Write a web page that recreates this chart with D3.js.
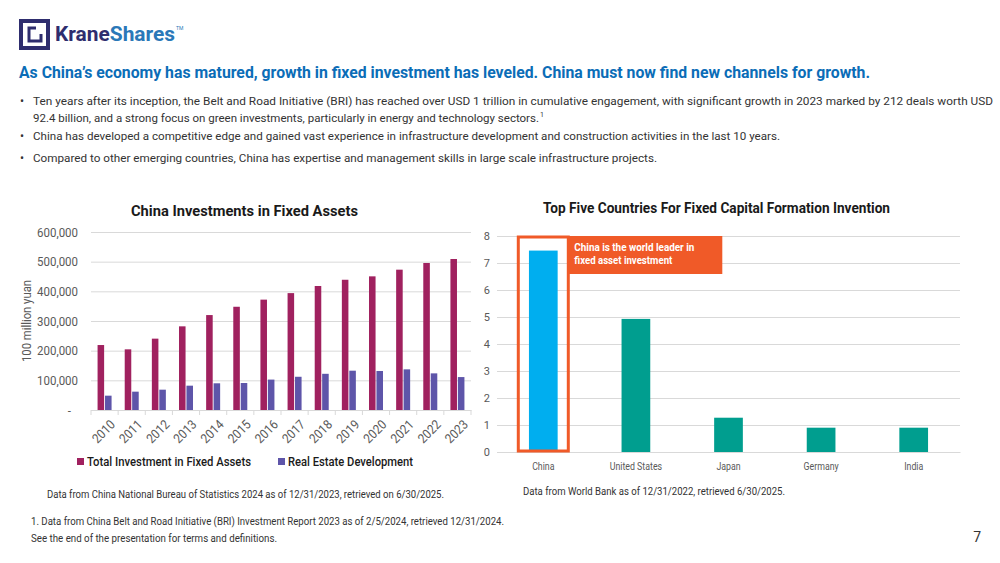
<!DOCTYPE html>
<html>
<head>
<meta charset="utf-8">
<script src="https://cdn.jsdelivr.net/npm/d3@7"></script>
<style>
  body { margin: 0; background: #fff; }
  svg { display: block; }
  text { font-family: Roboto, "DejaVu Sans", sans-serif; }
</style>
</head>
<body>
<svg id="canvas"></svg>
<script>
const YEARS = ["2010","2011","2012","2013","2014","2015","2016","2017","2018","2019","2020","2021","2022","2023"];
const TOTAL_INVESTMENT = [219000, 204500, 240500, 282000, 320000, 348000, 372000, 394000, 418000, 439000, 450500, 473000, 495500, 509000];
const REAL_ESTATE = [48300, 61800, 68500, 82000, 90000, 91000, 102500, 112000, 122000, 132500, 131500, 137000, 123500, 111000];
const LEFT_TICKS = [0, 100000, 200000, 300000, 400000, 500000, 600000];

const COUNTRIES = ["China", "United States", "Japan", "Germany", "India"];
const FORMATION = [7.46, 4.93, 1.27, 0.9, 0.9];
const RIGHT_TICKS = [0, 1, 2, 3, 4, 5, 6, 7, 8];

const BULLETS = [
    ["Ten years after its inception, the Belt and Road Initiative (BRI) has reached over USD 1 trillion in cumulative engagement, with significant growth in 2023 marked by 212 deals worth USD",
     "92.4 billion, and a strong focus on green investments, particularly in energy and technology sectors."],
    ["China has developed a competitive edge and gained vast experience in infrastructure development and construction activities in the last 10 years."],
    ["Compared to other emerging countries, China has expertise and management skills in large scale infrastructure projects."]
];
//target widths of the bullet lines in the slide (the slide font is condensed)
const BULLET_WIDTHS = [[960, 506], [747], [624]];

const width = 1000;
const height = 563;
const NAVY = "#2e2d6e";
const GRID = "#d9d9d9";
const LABEL = "#595959";

const svg = d3.select("#canvas")
    .attr("width", width)
    .attr("height", height);

//Squeezes a text to a given width, imitating the narrow slide font
function fit(sel, w) {
    return sel.attr("textLength", w).attr("lengthAdjust", "spacingAndGlyphs");
}
function condense(sel, ratio) {
    sel.each(function () {
        const w = this.getComputedTextLength();
        d3.select(this).attr("textLength", w * ratio).attr("lengthAdjust", "spacingAndGlyphs");
    });
}
//Shrinks the font until the natural width fits, then pins the width
function fitSize(sel, w, base) {
    sel.style("font-size", base + "px");
    const natural = sel.node().getComputedTextLength();
    if (natural > w) sel.style("font-size", (base * w / natural).toFixed(2) + "px");
    return fit(sel, w);
}

//Logo
const logo = svg.append("g");
logo.append("rect")
    .attr("x", 21).attr("y", 21).attr("width", 27).attr("height", 27)
    .attr("fill", "none").attr("stroke", NAVY).attr("stroke-width", 4);
logo.append("path")
    .attr("d", "M36,28 H29 V41 H41 V34")
    .attr("fill", "none").attr("stroke", NAVY).attr("stroke-width", 3);
const logoText = logo.append("text")
    .attr("x", 55).attr("y", 41)
    .style("font-weight", "bold")
    .style("font-size", "21px");
logoText.append("tspan").attr("fill", NAVY).text("Krane");
logoText.append("tspan").attr("fill", "#2a78b8").text("Shares");
fit(logoText, 120);
logo.append("text")
    .attr("x", 176).attr("y", 30)
    .attr("fill", "#2a78b8")
    .style("font-size", "5px")
    .text("TM");

//Headline
fit(svg.append("text")
    .attr("x", 19).attr("y", 78)
    .attr("fill", "#0b6db7")
    .style("font-weight", "bold")
    .style("font-size", "17px")
    .text("As China\u2019s economy has matured, growth in fixed investment has leveled. China must now find new channels for growth."), 851);

//Bullets
const bulletY = [105, 140, 162];
BULLETS.forEach((lines, i) => {
    svg.append("text")
        .attr("x", 20).attr("y", bulletY[i])
        .attr("fill", "#333")
        .style("font-size", "12px")
        .text("\u2022");
    lines.forEach((line, j) => {
        const t = svg.append("text")
            .attr("x", 33).attr("y", bulletY[i] + j * 17)
            .attr("fill", "#333")
            .text(line);
        fitSize(t, BULLET_WIDTHS[i][j], 13);
    });
});
svg.append("text")
    .attr("x", 33 + BULLET_WIDTHS[0][1] + 1).attr("y", bulletY[0] + 12)
    .attr("fill", "#333")
    .style("font-size", "7px")
    .text("1");

//Left chart: China Investments in Fixed Assets
const xLeft = d3.scaleBand()
    .domain(YEARS)
    .range([91, 471]);
const yLeft = d3.scaleLinear()
    .domain([0, 600000])
    .range([410, 232]);
const series = d3.scaleBand()
    .domain(["total", "real"])
    .range([0, 14])
    .paddingInner(0.12);

fit(svg.append("text")
    .attr("x", 131).attr("y", 216)
    .attr("fill", "#1a1a1a")
    .style("font-weight", "bold")
    .style("font-size", "14.5px")
    .text("China Investments in Fixed Assets"), 227);

svg.append("g")
    .attr("transform", "translate(91, 0)")
    .call(d3.axisLeft(yLeft).tickValues(LEFT_TICKS).tickSize(-380).tickPadding(13)
        .tickFormat(d => d === 0 ? "-" : d3.format(",")(d)))
    .call(g => g.select(".domain").remove())
    .call(g => g.selectAll(".tick line").attr("stroke", GRID))
    .call(g => g.selectAll(".tick text").attr("fill", LABEL).style("font-size", "13.5px")
        .attr("dx", d => d === 0 ? -7 : 0))
    .call(g => condense(g.selectAll(".tick text"), 0.85));

const xAxisLeft = svg.append("g")
    .attr("transform", "translate(0, 410)")
    .call(d3.axisBottom(xLeft).tickSize(0).tickFormat(""))
    .call(g => g.select(".domain").attr("stroke", GRID));
xAxisLeft.selectAll(".sep")
    .data(d3.range(YEARS.length + 1))
    .enter()
    .append("line")
    .attr("class", "sep")
    .attr("x1", d => 91 + d * xLeft.bandwidth())
    .attr("x2", d => 91 + d * xLeft.bandwidth())
    .attr("y1", 0).attr("y2", 5)
    .attr("stroke", GRID);
xAxisLeft.selectAll(".year")
    .data(YEARS)
    .enter()
    .append("text")
    .attr("class", "year")
    .attr("transform", d => `translate(${xLeft(d) + xLeft.bandwidth() / 2 + 5}, 9) rotate(-45)`)
    .attr("text-anchor", "end")
    .attr("dy", "0.7em")
    .attr("fill", LABEL)
    .style("font-size", "13px")
    .text(d => d);
condense(xAxisLeft.selectAll(".year"), 0.9);

const barOffset = (xLeft.bandwidth() - 14) / 2;
svg.selectAll(".total")
    .data(TOTAL_INVESTMENT)
    .enter()
    .append("rect")
    .attr("class", "total")
    .attr("x", (d, i) => xLeft(YEARS[i]) + barOffset + series("total"))
    .attr("y", d => yLeft(d))
    .attr("width", series.bandwidth())
    .attr("height", d => yLeft(0) - yLeft(d))
    .attr("fill", "#a0215f");
svg.selectAll(".real")
    .data(REAL_ESTATE)
    .enter()
    .append("rect")
    .attr("class", "real")
    .attr("x", (d, i) => xLeft(YEARS[i]) + barOffset + series("real"))
    .attr("y", d => yLeft(d))
    .attr("width", series.bandwidth())
    .attr("height", d => yLeft(0) - yLeft(d))
    .attr("fill", "#5e55a9");

//Left legend
const legend = [
    ["Total Investment in Fixed Assets", "#a0215f", 77, 164],
    ["Real Estate Development", "#5e55a9", 278, 125]
];
legend.forEach(([label, color, x, w]) => {
    svg.append("rect")
        .attr("x", x).attr("y", 458).attr("width", 7).attr("height", 7)
        .attr("fill", color);
    fit(svg.append("text")
        .attr("x", x + 10).attr("y", 466)
        .attr("fill", "#1a1a1a")
        .style("font-size", "13px")
        .style("font-weight", 500)
        .text(label), w);
});

fit(svg.append("text")
    .attr("transform", "translate(31, 321) rotate(-90)")
    .attr("text-anchor", "middle")
    .attr("fill", LABEL)
    .style("font-size", "13px")
    .text("100 million yuan"), 82);

fit(svg.append("text")
    .attr("x", 47).attr("y", 498)
    .attr("fill", "#333")
    .style("font-size", "10px")
    .text("Data from China National Bureau of Statistics 2024 as of 12/31/2023, retrieved on 6/30/2025."), 397);

//Right chart: Top Five Countries
const xRight = d3.scaleBand()
    .domain(COUNTRIES)
    .range([497, 960])
    .paddingInner(0.69)
    .paddingOuter(0.345);
const yRight = d3.scaleLinear()
    .domain([0, 8])
    .range([452, 236]);

fit(svg.append("text")
    .attr("x", 543).attr("y", 213)
    .attr("fill", "#1a1a1a")
    .style("font-weight", "bold")
    .style("font-size", "14.5px")
    .text("Top Five Countries For Fixed Capital Formation Invention"), 347);

svg.append("g")
    .attr("transform", "translate(497, 0)")
    .call(d3.axisLeft(yRight).tickValues(RIGHT_TICKS).tickSize(-463).tickPadding(7))
    .call(g => g.select(".domain").remove())
    .call(g => g.selectAll(".tick line").attr("stroke", GRID))
    .call(g => g.selectAll(".tick text").attr("fill", LABEL).style("font-size", "11px"));

svg.append("g")
    .attr("transform", "translate(0, 452)")
    .call(d3.axisBottom(xRight).tickSize(0).tickPadding(10))
    .call(g => g.select(".domain").attr("stroke", GRID))
    .call(g => g.selectAll(".tick text").attr("fill", LABEL).style("font-size", "11px"))
    .call(g => condense(g.selectAll(".tick text"), 0.8));

svg.selectAll(".country")
    .data(FORMATION)
    .enter()
    .append("rect")
    .attr("class", "country")
    .attr("x", (d, i) => xRight(COUNTRIES[i]))
    .attr("y", d => yRight(d))
    .attr("width", xRight.bandwidth())
    .attr("height", d => yRight(0) - yRight(d))
    .attr("fill", (d, i) => i === 0 ? "#00aeef" : "#009e8f");

//Highlight around China
const chinaMid = xRight("China") + xRight.bandwidth() / 2;
svg.append("rect")
    .attr("x", chinaMid - 25).attr("y", yRight(8) + 1)
    .attr("width", 50).attr("height", yRight(0) - yRight(8) - 2)
    .attr("fill", "none")
    .attr("stroke", "#f05a28")
    .attr("stroke-width", 3);
svg.append("rect")
    .attr("x", chinaMid + 24).attr("y", yRight(8))
    .attr("width", 155).attr("height", 38)
    .attr("fill", "#f05a28");
[["China is the world leader in", 120], ["fixed asset investment", 98]].forEach(([line, w], i) => {
    fit(svg.append("text")
        .attr("x", chinaMid + 31).attr("y", 251 + i * 13)
        .attr("fill", "#fff")
        .style("font-weight", "bold")
        .style("font-size", "11px")
        .text(line), w);
});

fit(svg.append("text")
    .attr("x", 523).attr("y", 495)
    .attr("fill", "#333")
    .style("font-size", "10px")
    .text("Data from World Bank as of 12/31/2022, retrieved 6/30/2025."), 262);

//Footer
fit(svg.append("text")
    .attr("x", 31).attr("y", 525)
    .attr("fill", "#333")
    .style("font-size", "10px")
    .text("1. Data from China Belt and Road Initiative (BRI) Investment Report 2023 as of 2/5/2024, retrieved 12/31/2024."), 473);
fit(svg.append("text")
    .attr("x", 31).attr("y", 542)
    .attr("fill", "#333")
    .style("font-size", "10px")
    .text("See the end of the presentation for terms and definitions."), 246);
svg.append("text")
    .attr("x", 981).attr("y", 542)
    .attr("text-anchor", "end")
    .attr("fill", "#333")
    .style("font-size", "14px")
    .text("7");
</script>
</body>
</html>
